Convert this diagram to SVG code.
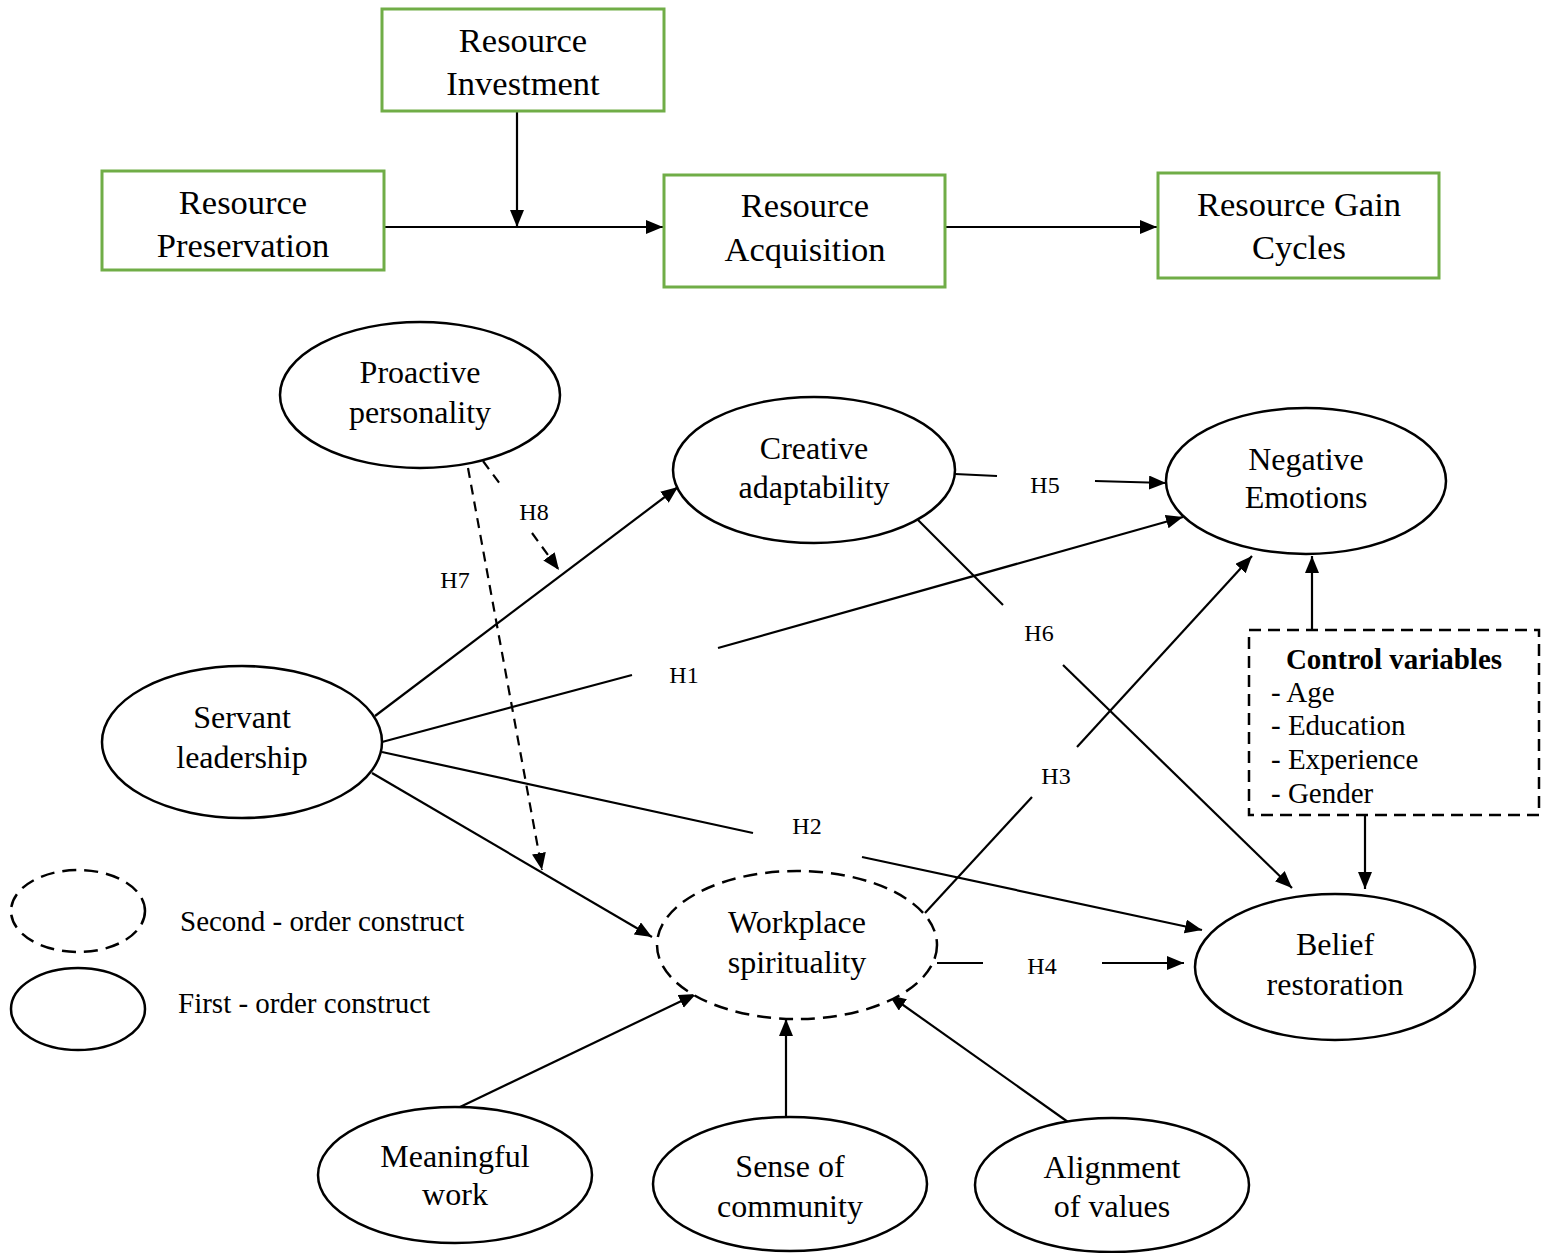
<svg xmlns="http://www.w3.org/2000/svg" width="1546" height="1253" viewBox="0 0 1546 1253">
<style>
.box{fill:#fff;stroke:#70AD47;stroke-width:3}
.ell{fill:#fff;stroke:#000;stroke-width:2.5}
.dash{stroke-dasharray:14,8}
.ln{fill:none;stroke:#000;stroke-width:2.2}
.dl{fill:none;stroke:#000;stroke-width:2.2;stroke-dasharray:10,7}
.t{font-family:"Liberation Serif","Times New Roman",serif;fill:#000;text-anchor:middle}
.bt{font-size:34.5px}
.et{font-size:32px}
.h{font-size:24px}
.lg{font-size:29px;text-anchor:start}
.cv{font-size:29px;text-anchor:start}
</style>
<defs>
<marker id="a" markerUnits="userSpaceOnUse" markerWidth="20" markerHeight="16" refX="17" refY="7" orient="auto">
<path d="M0,0 L17,7 L0,14 z" fill="#000"/>
</marker>
</defs>
<rect width="1546" height="1253" fill="#fff"/>

<g id="connectors">
<line class="ln" x1="517" y1="111" x2="517" y2="227" marker-end="url(#a)"/>
<line class="ln" x1="384" y1="227" x2="663" y2="227" marker-end="url(#a)"/>
<line class="ln" x1="945" y1="227" x2="1157" y2="227" marker-end="url(#a)"/>
<!-- H5 -->
<line class="ln" x1="955" y1="474" x2="997" y2="476"/>
<line class="ln" x1="1095" y1="481" x2="1166" y2="483" marker-end="url(#a)"/>
<!-- H1 -->
<line class="ln" x1="382" y1="742" x2="632" y2="675"/>
<line class="ln" x1="718" y1="648" x2="1183" y2="517" marker-end="url(#a)"/>
<!-- Servant -> Creative -->
<line class="ln" x1="375" y1="716" x2="678" y2="487" marker-end="url(#a)"/>
<!-- H2 -->
<line class="ln" x1="382" y1="752" x2="753" y2="833"/>
<line class="ln" x1="862" y1="857" x2="1202" y2="930" marker-end="url(#a)"/>
<!-- Servant -> Workplace -->
<line class="ln" x1="372" y1="773" x2="652" y2="937" marker-end="url(#a)"/>
<!-- H3 -->
<line class="ln" x1="925" y1="913" x2="1032" y2="797"/>
<line class="ln" x1="1077" y1="747" x2="1252" y2="556" marker-end="url(#a)"/>
<!-- H6 -->
<line class="ln" x1="918" y1="520" x2="1003" y2="605"/>
<line class="ln" x1="1063" y1="665" x2="1292" y2="888" marker-end="url(#a)"/>
<!-- H4 -->
<line class="ln" x1="937" y1="963" x2="983" y2="963"/>
<line class="ln" x1="1102" y1="963" x2="1184" y2="963" marker-end="url(#a)"/>
<!-- H7 -->
<line class="dl" x1="468" y1="468" x2="542" y2="870" marker-end="url(#a)"/>
<!-- H8 -->
<line class="dl" x1="483" y1="461" x2="500" y2="484"/>
<line class="dl" x1="532" y1="533" x2="559" y2="570" marker-end="url(#a)"/>
<!-- control -->
<line class="ln" x1="1312" y1="630" x2="1312" y2="556" marker-end="url(#a)"/>
<line class="ln" x1="1365" y1="815" x2="1365" y2="889" marker-end="url(#a)"/>
<!-- dimensions -->
<line class="ln" x1="460" y1="1107" x2="696" y2="994" marker-end="url(#a)"/>
<line class="ln" x1="786" y1="1117" x2="786" y2="1019" marker-end="url(#a)"/>
<line class="ln" x1="1068" y1="1122" x2="889" y2="995" marker-end="url(#a)"/>
<!-- labels -->
<text class="t h" x="1045" y="493">H5</text>
<text class="t h" x="684" y="683">H1</text>
<text class="t h" x="807" y="834">H2</text>
<text class="t h" x="1056" y="784">H3</text>
<text class="t h" x="1039" y="641">H6</text>
<text class="t h" x="1042" y="974">H4</text>
<text class="t h" x="455" y="588">H7</text>
<text class="t h" x="534" y="520">H8</text>
</g>

<g id="resource-investment">
<rect class="box" x="382" y="9" width="282" height="102"/>
<text class="t bt" x="523" y="52">Resource</text>
<text class="t bt" x="523" y="95">Investment</text>
</g>
<g id="resource-preservation">
<rect class="box" x="102" y="171" width="282" height="99"/>
<text class="t bt" x="243" y="214">Resource</text>
<text class="t bt" x="243" y="257">Preservation</text>
</g>
<g id="resource-acquisition">
<rect class="box" x="664" y="175" width="281" height="112"/>
<text class="t bt" x="805" y="217">Resource</text>
<text class="t bt" x="805" y="261">Acquisition</text>
</g>
<g id="resource-gain-cycles">
<rect class="box" x="1158" y="173" width="281" height="105"/>
<text class="t bt" x="1299" y="216">Resource Gain</text>
<text class="t bt" x="1299" y="259">Cycles</text>
</g>

<g id="proactive-personality">
<ellipse class="ell" cx="420" cy="395" rx="140" ry="73"/>
<text class="t et" x="420" y="383">Proactive</text>
<text class="t et" x="420" y="423">personality</text>
</g>
<g id="creative-adaptability">
<ellipse class="ell" cx="814" cy="470" rx="141" ry="73"/>
<text class="t et" x="814" y="459">Creative</text>
<text class="t et" x="814" y="498">adaptability</text>
</g>
<g id="negative-emotions">
<ellipse class="ell" cx="1306" cy="481" rx="140" ry="73"/>
<text class="t et" x="1306" y="470">Negative</text>
<text class="t et" x="1306" y="508">Emotions</text>
</g>
<g id="servant-leadership">
<ellipse class="ell" cx="242" cy="742" rx="140" ry="76"/>
<text class="t et" x="242" y="728">Servant</text>
<text class="t et" x="242" y="768">leadership</text>
</g>
<g id="workplace-spirituality">
<ellipse class="ell dash" cx="797" cy="945" rx="140" ry="74"/>
<text class="t et" x="797" y="933">Workplace</text>
<text class="t et" x="797" y="973">spirituality</text>
</g>
<g id="belief-restoration">
<ellipse class="ell" cx="1335" cy="967" rx="140" ry="73"/>
<text class="t et" x="1335" y="955">Belief</text>
<text class="t et" x="1335" y="995">restoration</text>
</g>
<g id="meaningful-work">
<ellipse class="ell" cx="455" cy="1175" rx="137" ry="68"/>
<text class="t et" x="455" y="1167">Meaningful</text>
<text class="t et" x="455" y="1205">work</text>
</g>
<g id="sense-of-community">
<ellipse class="ell" cx="790" cy="1184" rx="137" ry="67"/>
<text class="t et" x="790" y="1177">Sense of</text>
<text class="t et" x="790" y="1217">community</text>
</g>
<g id="alignment-of-values">
<ellipse class="ell" cx="1112" cy="1185" rx="137" ry="67"/>
<text class="t et" x="1112" y="1178">Alignment</text>
<text class="t et" x="1112" y="1217">of values</text>
</g>

<g id="control-variables">
<rect x="1249" y="630" width="290" height="185" fill="#fff" stroke="#000" stroke-width="2.5" stroke-dasharray="12,7"/>
<text class="t" x="1394" y="669" style="font-size:29px;font-weight:bold">Control variables</text>
<text class="t cv" x="1271" y="702">- Age</text>
<text class="t cv" x="1271" y="735">- Education</text>
<text class="t cv" x="1271" y="769">- Experience</text>
<text class="t cv" x="1271" y="803">- Gender</text>
</g>

<g id="legend">
<ellipse class="ell dash" cx="78" cy="911" rx="67" ry="41"/>
<ellipse class="ell" cx="78" cy="1009" rx="67" ry="41"/>
<text class="t lg" x="180" y="931">Second - order construct</text>
<text class="t lg" x="178" y="1013">First - order construct</text>
</g>
</svg>
